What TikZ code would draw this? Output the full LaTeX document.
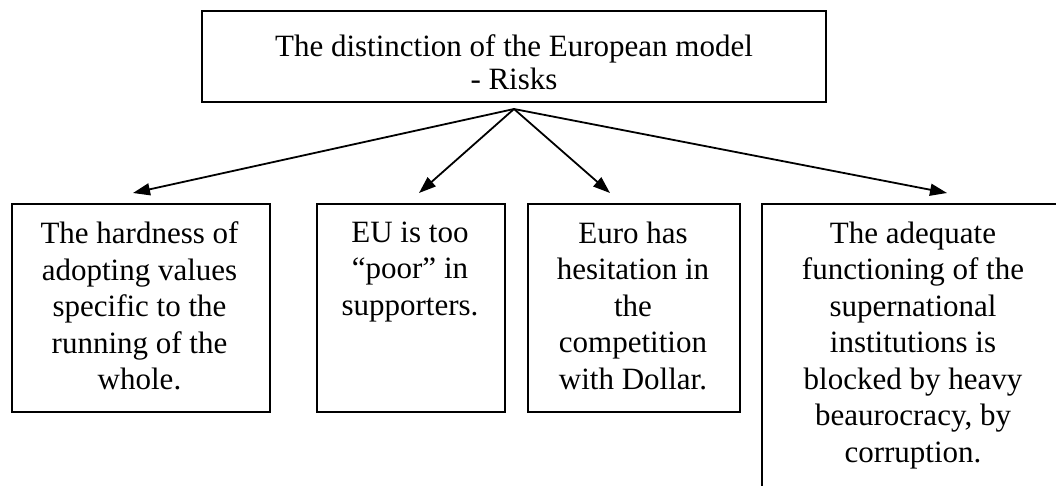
\documentclass[tikz,border=0pt]{standalone}
\usepackage{fontspec}
\setmainfont{Liberation Serif}
\usetikzlibrary{arrows.meta}
\begin{document}
\begin{tikzpicture}[x=1pt,y=-1pt,
  box/.style={draw, line width=1.8pt, inner sep=0pt},
  txt/.style={align=center, inner sep=0pt, font=\fontsize{31}{36.5}\selectfont},
  titletxt/.style={align=center, inner sep=0pt, font=\fontsize{31}{33}\selectfont},
  link/.style={line width=1.8pt, -{Triangle[length=17pt,width=12pt]}}]
\useasboundingbox (0,0) rectangle (1056,486);
\clip (0,0) rectangle (1056,486);
\node[box, minimum width=624pt, minimum height=91pt] (top) at (514,56.5) {};
\node[titletxt, anchor=north] (tt) at (514,34) {The distinction of the European model\\- Risks};
\node[box, anchor=north west, minimum width=258pt, minimum height=208pt] (b1) at (11,203) {};
\node[box, anchor=north west, minimum width=188pt, minimum height=208pt] (b2) at (316,203) {};
\node[box, anchor=north west, minimum width=212pt, minimum height=208pt] (b3) at (527,203) {};
\node[box, anchor=north west, minimum width=305pt, minimum height=320pt] (b4) at (761,203) {};
\node[txt, anchor=north] (t1) at (139.5,221.5) {The hardness of\\adopting values\\specific to the\\running of the\\whole.};
\node[txt, anchor=north] (t2) at (410,221.5) {EU is too\\“poor” in\\supporters.};
\node[txt, anchor=north] (t3) at (633,221.5) {Euro has\\hesitation in\\the\\competition\\with Dollar.};
\node[txt, anchor=north] (t4) at (913,221.5) {The adequate\\functioning of the\\supernational\\institutions is\\blocked by heavy\\beaurocracy, by\\corruption.};
\coordinate (o) at (514,109);
\coordinate (a1) at (133,193);
\coordinate (a2) at (419,193);
\coordinate (a3) at (610,193);
\coordinate (a4) at (947,193);
\draw[link] (o) -- (a1);
\draw[link] (o) -- (a2);
\draw[link] (o) -- (a3);
\draw[link] (o) -- (a4);
\end{tikzpicture}
\end{document}
